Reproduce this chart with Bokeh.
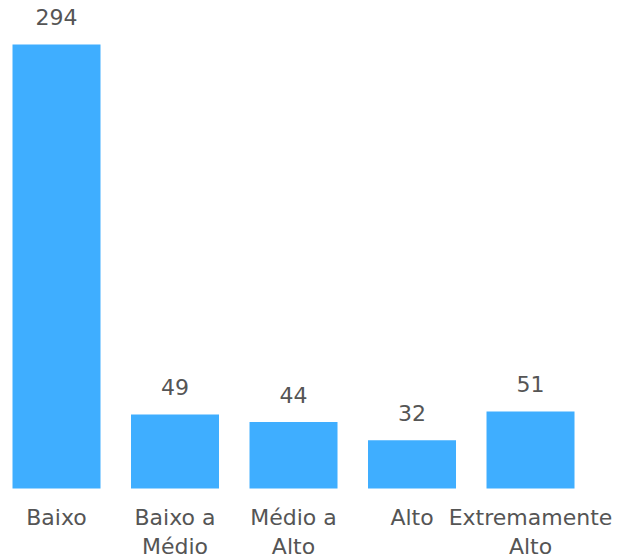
from bokeh.plotting import figure
from bokeh.models import ColumnDataSource, Range1d
from bokeh.core.properties import value
from bokeh.embed import file_html
from bokeh.resources import INLINE

categories = ["Baixo", "Baixo a\nMédio", "Médio a\nAlto", "Alto", "Extremamente\nAlto"]
values = [294, 49, 44, 32, 51]
value_labels = [str(v) for v in values]

xs = list(range(len(categories)))
src = ColumnDataSource(dict(x=xs, top=values, label=value_labels,
                            cat=categories, base=[0] * len(xs)))

p = figure(width=626, height=558, output_backend="svg", toolbar_location=None,
           x_range=Range1d(-0.4726, 4.810), y_range=Range1d(-46.35, 323.1),
           min_border_left=0, min_border_right=0, min_border_top=0, min_border_bottom=0)

p.vbar(x="x", top="top", bottom=0, width=0.7426, source=src,
       fill_color="#3FAEFF", line_color=None)
p.text(x="x", y="top", text="label", source=src, text_align="center",
       text_baseline="alphabetic", y_offset=-27, text_font=value("DejaVu Sans"),
       text_font_size="22px", text_color="#555555")
# category labels below the bars
p.text(x="x", y="base", text="cat", source=src, text_align="center",
       text_baseline="top", y_offset=17, text_font=value("DejaVu Sans"),
       text_font_size="22px", text_color="#555555", text_line_height=1.16)

p.xaxis.visible = False
p.yaxis.visible = False
p.xgrid.visible = False
p.ygrid.visible = False
p.outline_line_color = None
p.background_fill_color = "white"
p.border_fill_color = "white"

open("out.html", "w").write(file_html(p, INLINE))
